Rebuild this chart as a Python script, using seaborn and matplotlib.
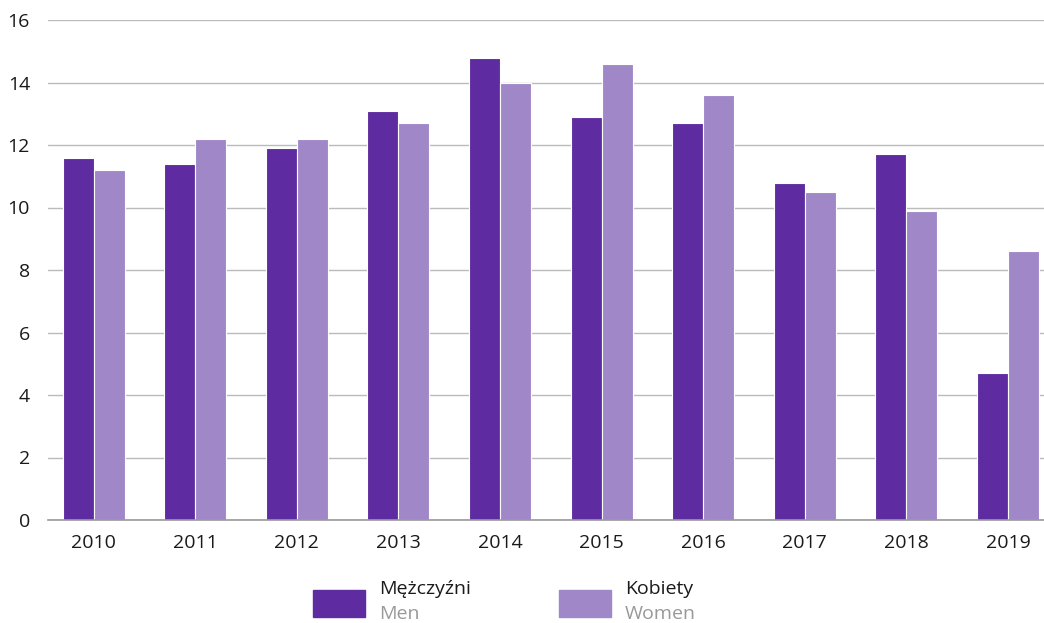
import pandas as pd
import seaborn as sns
import matplotlib.pyplot as plt
from matplotlib.patches import Rectangle

# Data
years = ['2010', '2011', '2012', '2013', '2014', '2015', '2016', '2017', '2018', '2019']
men = [11.6, 11.4, 11.9, 13.1, 14.8, 12.9, 12.7, 10.8, 11.7, 4.7]
women = [11.2, 12.2, 12.2, 12.7, 14.0, 14.6, 13.6, 10.5, 9.9, 8.6]
labels_pl = ['Mężczyźni', 'Kobiety']
labels_en = ['Men', 'Women']
colors = ['#5e2ca0', '#a088c8']

df = pd.DataFrame({
    'Year': years * 2,
    'Value': men + women,
    'Group': [labels_pl[0]] * len(years) + [labels_pl[1]] * len(years),
})

sns.set_style('white')
plt.rcParams['font.family'] = ['Open Sans', 'DejaVu Sans']

fig = plt.figure(figsize=(10.44, 6.23), dpi=100)
ax = fig.add_axes([48 / 1044, 103 / 623, 996 / 1044, 500 / 623])

sns.barplot(data=df, x='Year', y='Value', hue='Group', palette=colors,
            saturation=1, width=0.61, gap=0.0, edgecolor='white',
            linewidth=0.8, legend=False, ax=ax)

ax.set_xlim(-0.448, 9.355)
ax.set_ylim(0, 16)
ax.set_yticks(range(0, 17, 2))
ax.yaxis.grid(True, color='#bbbbbb', linewidth=1)
ax.set_axisbelow(True)
for s in ['top', 'right', 'left']:
    ax.spines[s].set_visible(False)
ax.spines['bottom'].set_color('#999999')
ax.spines['bottom'].set_linewidth(1.2)
ax.set_xlabel('')
ax.set_ylabel('')
ax.tick_params(axis='both', length=0, labelsize=14, colors='#1a1a1a')
ax.tick_params(axis='y', pad=13)
ax.tick_params(axis='x', pad=10)

# Legend drawn by hand (two-line labels, second line grey)
for i, x0 in enumerate([313, 559]):
    fig.add_artist(Rectangle((x0 / 1044, 1 - 617 / 623), 52 / 1044, 27 / 623,
                             transform=fig.transFigure, color=colors[i]))
    fig.text((x0 + 66) / 1044, 1 - 589 / 623, labels_pl[i], fontsize=14,
             color='#1a1a1a', va='center', ha='left')
    fig.text((x0 + 66) / 1044, 1 - 614 / 623, labels_en[i], fontsize=14,
             color='#999999', va='center', ha='left')

fig.savefig('out.png', dpi=100)
